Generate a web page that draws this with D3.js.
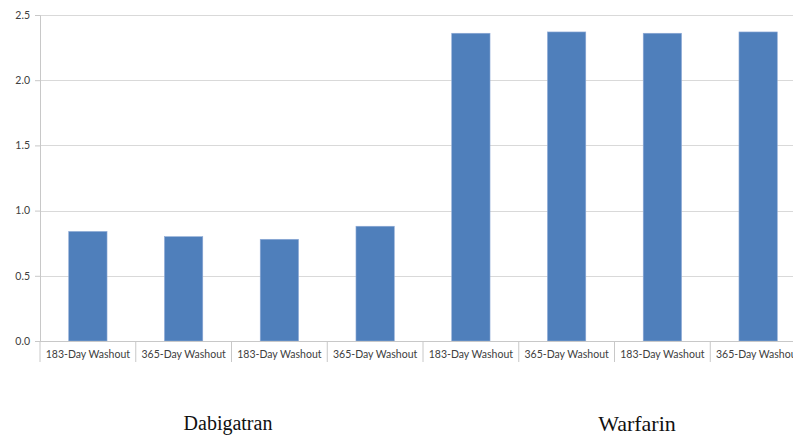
<!DOCTYPE html>
<html>
<head>
<meta charset="utf-8">
<script src="https://cdn.jsdelivr.net/npm/d3@7"></script>
<style>
  html, body { margin: 0; padding: 0; background: #fff; }
  svg { display: block; }
</style>
</head>
<body>
<svg id="chart" width="793" height="435"></svg>
<script>
// Bar categories (washout periods) and the drug group each pair belongs to
const categories = ["183-Day Washout", "365-Day Washout", "183-Day Washout", "365-Day Washout",
                    "183-Day Washout", "365-Day Washout", "183-Day Washout", "365-Day Washout"];
const values = [0.84, 0.80, 0.78, 0.88, 2.36, 2.37, 2.36, 2.37];
const groups = ["Dabigatran", "Warfarin"];
const yTicks = [0.0, 0.5, 1.0, 1.5, 2.0, 2.5];

const svg = d3.select("#chart");
const plotLeft = 40, plotRight = 806, plotTop = 15, plotBottom = 341;

const x = d3.scaleBand()
  .domain(d3.range(categories.length))
  .range([plotLeft, plotRight])
  .paddingInner(0)
  .paddingOuter(0);

const y = d3.scaleLinear().domain([0, 2.5]).range([plotBottom, plotTop]);

// horizontal gridlines
svg.append("g").selectAll("line")
  .data(yTicks.filter(d => d > 0))
  .join("line")
  .attr("x1", plotLeft).attr("x2", 793)
  .attr("y1", d => Math.round(y(d)) + 0.5).attr("y2", d => Math.round(y(d)) + 0.5)
  .attr("stroke", "#d9d9d9").attr("stroke-width", 1);

// value axis
const yAxis = d3.axisLeft(y).tickValues(yTicks).tickFormat(d3.format(".1f")).tickSize(5).tickPadding(5);
const gy = svg.append("g").attr("transform", `translate(${plotLeft},0)`).call(yAxis);
gy.select(".domain").attr("stroke", "#c8c8c8");
gy.selectAll(".tick line").attr("stroke", "#c8c8c8");
gy.selectAll(".tick text")
  .attr("fill", "#404040")
  .style("font-family", "Lato, 'Open Sans', sans-serif")
  .style("font-size", "10.5px");

// bars
const barW = x.bandwidth() * 0.4;
svg.append("g").selectAll("rect")
  .data(values)
  .join("rect")
  .attr("x", (d, i) => x(i) + (x.bandwidth() - barW) / 2)
  .attr("y", d => y(d))
  .attr("width", barW)
  .attr("height", d => y(0) - y(d))
  .attr("fill", "#4f7fbb")
  .attr("stroke", "#8eaad6")
  .attr("stroke-width", 0.6);

// category axis with separators between bands
svg.append("line")
  .attr("x1", plotLeft).attr("x2", 793)
  .attr("y1", plotBottom + 0.5).attr("y2", plotBottom + 0.5)
  .attr("stroke", "#c8c8c8");

svg.append("g").selectAll("line")
  .data(d3.range(categories.length + 1))
  .join("line")
  .attr("x1", i => plotLeft + i * x.bandwidth()).attr("x2", i => plotLeft + i * x.bandwidth())
  .attr("y1", plotBottom).attr("y2", plotBottom + 21)
  .attr("stroke", "#c8c8c8");

svg.append("g").selectAll("text")
  .data(categories)
  .join("text")
  .attr("x", (d, i) => x(i) + x.bandwidth() / 2)
  .attr("y", plotBottom + 17)
  .attr("text-anchor", "middle")
  .attr("fill", "#404040")
  .style("font-family", "Lato, 'Open Sans', sans-serif")
  .style("font-size", "10.5px")
  .text(d => d);

// drug group labels
svg.append("text")
  .attr("x", 228).attr("y", 430)
  .attr("text-anchor", "middle")
  .style("font-family", "'Liberation Serif', 'Times New Roman', serif")
  .style("font-size", "20px")
  .attr("fill", "#111")
  .text(groups[0]);

svg.append("text")
  .attr("x", 637).attr("y", 431)
  .attr("text-anchor", "middle")
  .style("font-family", "'Liberation Serif', 'Times New Roman', serif")
  .style("font-size", "22px")
  .attr("fill", "#111")
  .text(groups[1]);
</script>
</body>
</html>
